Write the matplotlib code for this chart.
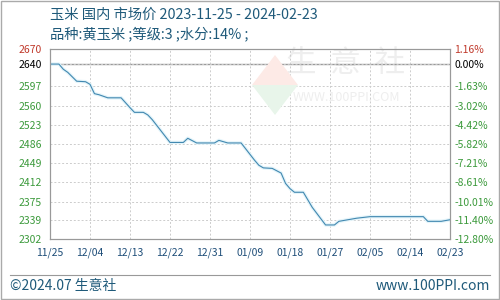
import matplotlib
matplotlib.use("Agg")
import matplotlib.pyplot as plt
from matplotlib.patches import Rectangle, Polygon
import pandas as pd

plt.rcParams['font.family'] = ['Noto Sans CJK SC', 'DejaVu Sans']

# 价格数据（日期, 元/吨）
dates = ['2023-11-25', '2023-11-27', '2023-11-28', '2023-11-29', '2023-12-01',
         '2023-12-03', '2023-12-04', '2023-12-05', '2023-12-06', '2023-12-08',
         '2023-12-11', '2023-12-13', '2023-12-14', '2023-12-16', '2023-12-17',
         '2023-12-18', '2023-12-22', '2023-12-25', '2023-12-26', '2023-12-28',
         '2024-01-01', '2024-01-02', '2024-01-04', '2024-01-07', '2024-01-08',
         '2024-01-10', '2024-01-11', '2024-01-12', '2024-01-14', '2024-01-16',
         '2024-01-17', '2024-01-18', '2024-01-19', '2024-01-21', '2024-01-23',
         '2024-01-26', '2024-01-28', '2024-01-29', '2024-01-31', '2024-02-02',
         '2024-02-05', '2024-02-17', '2024-02-18', '2024-02-21', '2024-02-23']
prices = [2640, 2640, 2630, 2624, 2607,
          2606, 2601, 2583, 2581, 2575,
          2575, 2556, 2547, 2547, 2542,
          2533, 2489, 2489, 2497, 2488,
          2488, 2493, 2488, 2488, 2477,
          2455, 2445, 2440, 2439, 2430,
          2410, 2400, 2393, 2393, 2364,
          2330, 2330, 2337, 2340, 2343,
          2346, 2346, 2337, 2337, 2340]

base = 2640
y_ticks = [2670, 2640, 2597, 2560, 2523, 2486, 2449, 2412, 2375, 2339, 2302]
pct_labels = ['1.16%', '0.00%', '-1.63%', '-3.02%', '-4.42%', '-5.82%',
              '-7.21%', '-8.61%', '-10.01%', '-11.40%', '-12.80%']
x_ticks = ['2023-11-25', '2023-12-04', '2023-12-13', '2023-12-22', '2023-12-31',
           '2024-01-09', '2024-01-18', '2024-01-27', '2024-02-05', '2024-02-14',
           '2024-02-23']

d = pd.to_datetime(dates)
xt = pd.to_datetime(x_ticks)

fig = plt.figure(figsize=(5, 3), dpi=100)
ax = fig.add_axes([0.1, 0.2017, 0.8, 0.6366])

# 水印（像素坐标，原点在左下）
fig.patches.append(Polygon([[275, 245], [298, 215], [252, 215]], closed=True,
                           transform=None, facecolor='#fdeae6', edgecolor='none', zorder=0))
fig.patches.append(Polygon([[252, 215], [298, 215], [275, 185]], closed=True,
                           transform=None, facecolor='#e8f5ea', edgecolor='none', zorder=0))
ax.text(0.74, 0.92, '生  意  社', transform=ax.transAxes, fontsize=22,
        color='#eeeeee', ha='center', va='center', zorder=0)
ax.text(0.74, 0.745, 'WWW.100PPI.COM', transform=ax.transAxes, fontsize=9,
        color='#eeeeee', ha='center', va='center', zorder=0)

ax.plot(d, prices, color='#e3f4fa', lw=2.5, zorder=2)
ax.plot(d, prices, color='#4288b0', lw=0.8, zorder=3)
ax.axhline(base, color='#999999', lw=1, zorder=1)

ax.set_xlim(xt[0], xt[-1])
ax.set_ylim(2302, 2670)
ax.set_yticks(y_ticks)
ax.set_yticklabels([str(v) for v in y_ticks], fontsize=7.5)
ax.set_xticks(xt)
ax.set_xticklabels([t.strftime('%m/%d') for t in xt], fontsize=7.5, color='#1f4e79')
ax.tick_params(length=0, pad=6)
ax.grid(True, color='#cccccc', linestyle=(0, (2, 2)), lw=0.7)
for s in ax.spines.values():
    s.set_color('#999999')

tick_colors = ['#c0392b', '#000000'] + ['#3c9a3c'] * 9
for lbl, c in zip(ax.get_yticklabels(), tick_colors):
    lbl.set_color(c)

ax2 = ax.twinx()
ax2.set_ylim(2302, 2670)
ax2.set_yticks(y_ticks)
ax2.set_yticklabels(pct_labels, fontsize=7.5)
ax2.tick_params(length=0, pad=3)
for lbl, c in zip(ax2.get_yticklabels(), tick_colors):
    lbl.set_color(c)
for s in ax2.spines.values():
    s.set_color('#999999')

fig.text(0.1, 0.95, '玉米 国内 市场价 2023-11-25 - 2024-02-23', fontsize=10.3,
         color='#1f5a7a', va='center')
fig.text(0.1, 0.887, '品种:黄玉米 ;等级:3 ;水分:14% ;', fontsize=10.3,
         color='#1f5a7a', va='center')

fig.add_artist(plt.Line2D([0.02, 0.98], [1 - 275 / 300, 1 - 275 / 300],
                          color='#999999', lw=0.8))
fig.text(0.02, 1 - 286 / 300, '©2024.07 生意社', fontsize=10, color='#1f5a7a', va='center')
fig.text(0.98, 1 - 286 / 300, 'www.100PPI.com', fontsize=10, color='#1f5a7a',
         va='center', ha='right')
fig.patches.append(Rectangle((0.001, 0.002), 0.997, 0.996, transform=fig.transFigure,
                             fill=False, edgecolor='#aaaaaa', lw=1))

fig.savefig('out.png', dpi=100)
